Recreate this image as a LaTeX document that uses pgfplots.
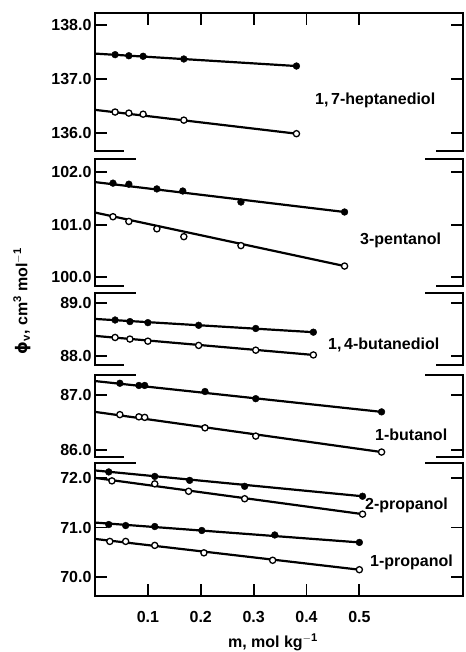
\documentclass[border=0pt]{standalone}
\usepackage{fontspec}
\setmainfont{Liberation Sans}
\newfontfamily\dejavu{DejaVu Sans}
\usepackage{pgfplots}
\pgfplotsset{compat=1.18}

\pgfplotsset{
  panel/.style={
    scale only axis, width=368pt, xmin=0, xmax=0.696,
    anchor=north west, clip=false,
    separate axis lines,
    x axis line style={draw=none},
    y axis line style={line width=2pt},
    tick style={line width=1.8pt, black},
    major tick length=12pt, tick align=inside,
    xtick=\empty, ytick pos=both, yticklabel pos=left,
    tick label style={font=\fontsize{16}{16}\bfseries\selectfont},
    xticklabel style={anchor=center, yshift=-21pt},
  },
  filled/.style={only marks, black, mark=*, mark size=3.4pt},
  open/.style={only marks, mark=*, mark size=3.1pt,
    mark options={fill=white, draw=black, line width=1.3pt}},
  fit/.style={black, line width=2.2pt, no marks},
}
% broken-axis stubs
\newcommand{\topstubs}{\draw[line width=2pt, line cap=rect]
  (rel axis cs:0,1) -- (rel axis cs:0.11,1) (rel axis cs:0.9,1) -- (rel axis cs:1,1);}
\newcommand{\botstubs}{\draw[line width=2pt, line cap=rect]
  (rel axis cs:0,0) -- (rel axis cs:0.075,0) (rel axis cs:0.93,0) -- (rel axis cs:1,0);}

\begin{document}
\begin{tikzpicture}
\path (0,0) rectangle (465pt,-652pt);

% 1,7-heptanediol
\begin{axis}[panel, at={(95pt,-13pt)}, height=138pt,
  ymin=135.67, ymax=138.22, ytick={136,137,138}, yticklabels={136.0,137.0,138.0},
  xtick={0.1,0.2,0.3,0.4,0.5}, xtick pos=right, xticklabels={}]
\addplot[fit] coordinates {(0,137.47) (0.381,137.24)};
\addplot[filled] coordinates {(0.038,137.45) (0.064,137.43) (0.091,137.42) (0.168,137.37) (0.381,137.24)};
\addplot[fit] coordinates {(0,136.43) (0.381,135.99)};
\addplot[open] coordinates {(0.038,136.39) (0.064,136.37) (0.091,136.35) (0.168,136.24) (0.381,135.99)};
\draw[line width=2pt, line cap=rect] (rel axis cs:0,1) -- (rel axis cs:1,1);
\botstubs
\end{axis}

% 3-pentanol
\begin{axis}[panel, at={(95pt,-159pt)}, height=127pt,
  ymin=99.83, ymax=102.25, ytick={100,101,102}, yticklabels={100.0,101.0,102.0}]
\addplot[fit] coordinates {(0,101.81) (0.472,101.24)};
\addplot[filled] coordinates {(0.034,101.79) (0.064,101.77) (0.117,101.68) (0.166,101.64) (0.276,101.43) (0.472,101.24)};
\addplot[fit] coordinates {(0,101.23) (0.472,100.21)};
\addplot[open] coordinates {(0.034,101.15) (0.064,101.06) (0.117,100.92) (0.168,100.77) (0.276,100.60) (0.472,100.21)};
\topstubs
\botstubs
\end{axis}

% 1,4-butanediol
\begin{axis}[panel, at={(95pt,-293pt)}, height=72pt,
  ymin=87.83, ymax=89.19, ytick={88,89}, yticklabels={88.0,89.0}]
\addplot[fit] coordinates {(0,88.70) (0.413,88.45)};
\addplot[filled] coordinates {(0.038,88.68) (0.066,88.65) (0.1,88.63) (0.196,88.58) (0.304,88.52) (0.413,88.45)};
\addplot[fit] coordinates {(0,88.38) (0.413,88.02)};
\addplot[open] coordinates {(0.038,88.35) (0.066,88.32) (0.1,88.28) (0.196,88.20) (0.304,88.11) (0.413,88.02)};
\topstubs
\botstubs
\end{axis}

% 1-butanol
\begin{axis}[panel, at={(95pt,-375pt)}, height=82pt,
  ymin=85.87, ymax=87.36, ytick={86,87}, yticklabels={86.0,87.0}]
\addplot[fit] coordinates {(0,87.25) (0.542,86.69)};
\addplot[filled] coordinates {(0.047,87.21) (0.083,87.17) (0.094,87.17) (0.208,87.06) (0.304,86.93) (0.542,86.69)};
\addplot[fit] coordinates {(0,86.69) (0.542,85.96)};
\addplot[open] coordinates {(0.047,86.64) (0.083,86.60) (0.094,86.59) (0.208,86.40) (0.304,86.25) (0.542,85.96)};
\topstubs
\botstubs
\end{axis}

% 2-propanol and 1-propanol
\begin{axis}[panel, at={(95pt,-463pt)}, height=133pt,
  ymin=69.62, ymax=72.30, ytick={70,71,72}, yticklabels={70.0,71.0,72.0},
  xtick={0.1,0.2,0.3,0.4,0.5}, xtick pos=left,
  xticklabels={0.1,0.2,0.3,0.4,0.5}]
\addplot[fit] coordinates {(0,72.15) (0.506,71.63)};
\addplot[filled] coordinates {(0.026,72.12) (0.113,72.03) (0.179,71.95) (0.283,71.83) (0.506,71.63)};
\addplot[fit] coordinates {(0,72.00) (0.506,71.27)};
\addplot[open] coordinates {(0.032,71.94) (0.113,71.88) (0.177,71.73) (0.283,71.58) (0.506,71.27)};
\addplot[fit] coordinates {(0,71.10) (0.5,70.70)};
\addplot[filled] coordinates {(0.026,71.06) (0.058,71.04) (0.113,71.02) (0.202,70.94) (0.340,70.85) (0.5,70.70)};
\addplot[fit] coordinates {(0,70.77) (0.5,70.15)};
\addplot[open] coordinates {(0.028,70.72) (0.058,70.72) (0.113,70.64) (0.206,70.49) (0.336,70.34) (0.5,70.15)};
\topstubs
\draw[line width=2pt, line cap=rect] (rel axis cs:0,0) -- (rel axis cs:1,0);
\end{axis}

\begin{scope}[every node/.style={font=\fontsize{16}{16}\bfseries\selectfont, anchor=west, inner sep=0pt}]
\node at (315pt,-100pt) {1,\,7-heptanediol};
\node at (360pt,-240pt) {3-pentanol};
\node at (328pt,-345pt) {1,\,4-butanediol};
\node at (375pt,-435pt) {1-butanol};
\node at (365pt,-505pt) {2-propanol};
\node at (370pt,-562pt) {1-propanol};
\node[anchor=center] at (273pt,-642pt) {m, mol kg\textsuperscript{$-$1}};
\node[anchor=center, rotate=90] at (22pt,-301pt) {{\dejavu\bfseries ϕ}\textsubscript{v}, cm\textsuperscript{3} mol\textsuperscript{$-$1}};
\end{scope}
\end{tikzpicture}
\end{document}
